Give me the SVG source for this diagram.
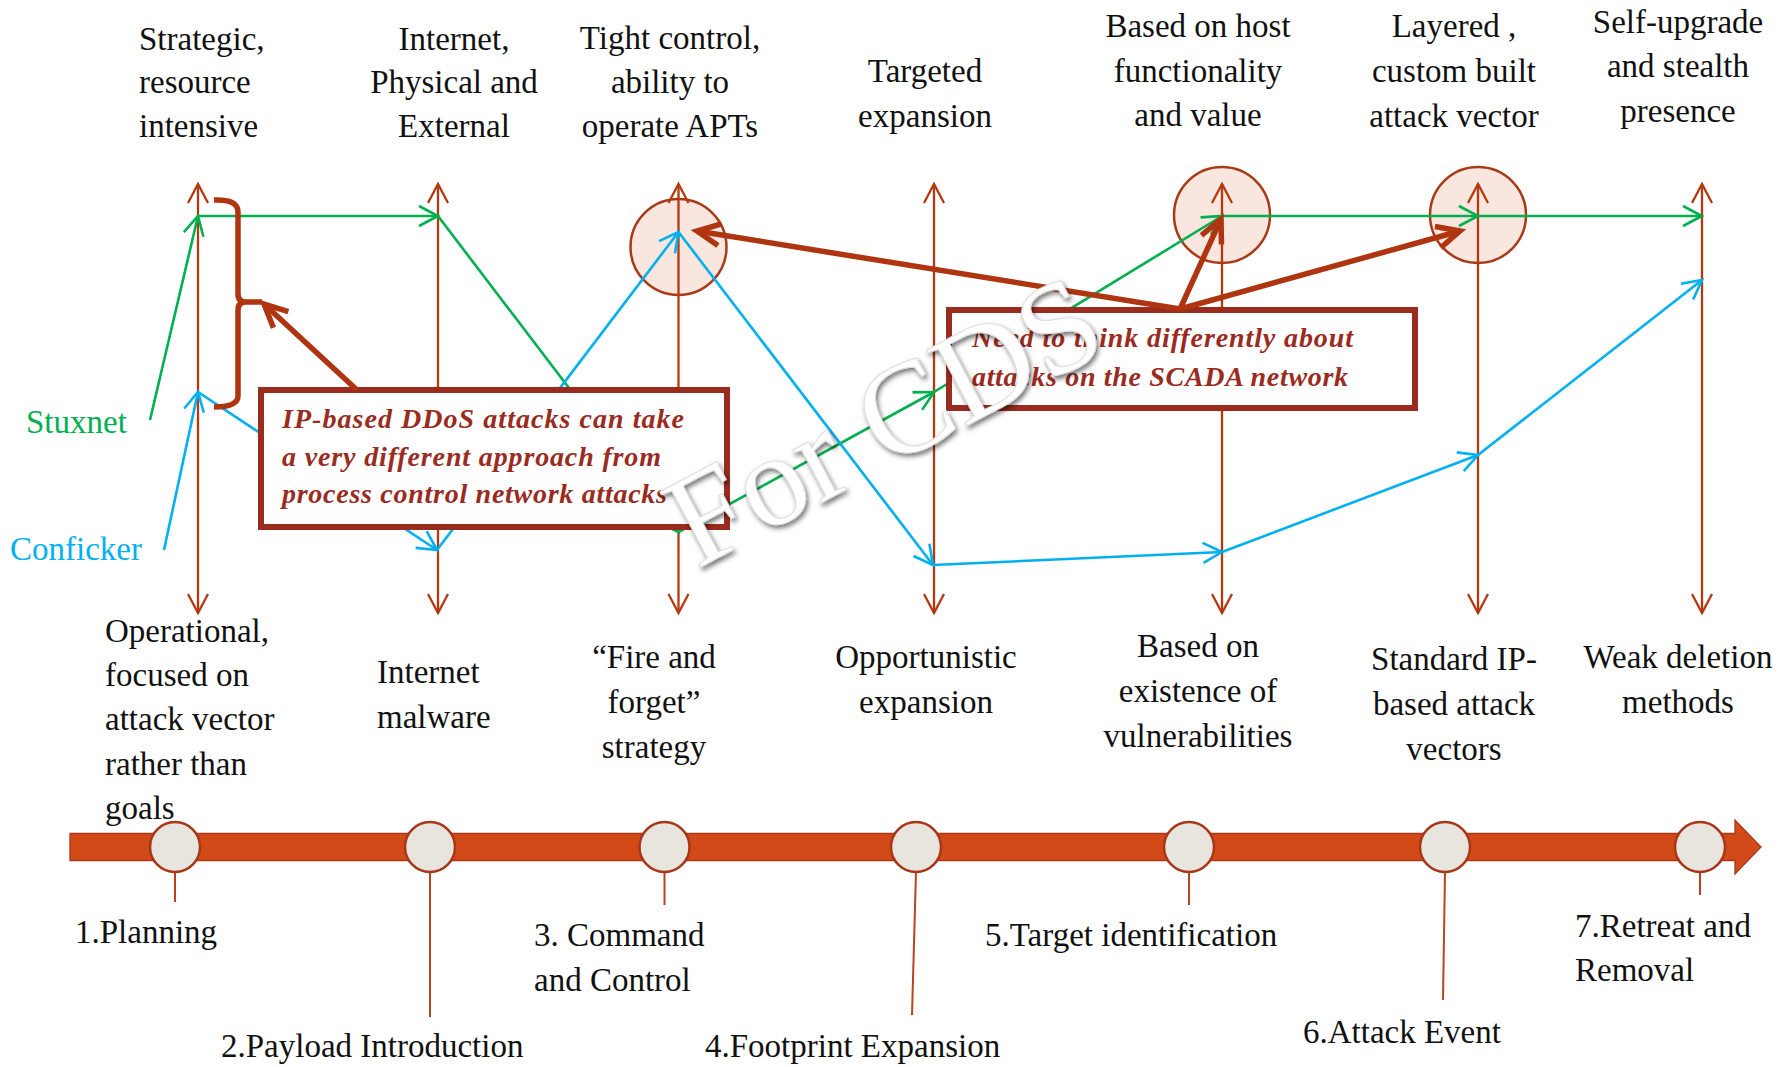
<svg xmlns="http://www.w3.org/2000/svg" width="1792" height="1067" viewBox="0 0 1792 1067">
  <style>
    .lbl { font-family: 'Liberation Serif', 'Times New Roman', serif; font-size: 33px; fill: #111; }
    .mid { text-anchor: middle; }
    .note { font-family: 'Liberation Serif', 'Times New Roman', serif; font-size: 28px; font-style: italic; font-weight: bold; fill: #9A2B1F; }
    .axis { stroke: #B5390F; stroke-width: 2.3; fill: none; }
    .stux { stroke: #00B050; stroke-width: 2.6; fill: none; marker-end: url(#ah-green); }
    .conf { stroke: #00B0F0; stroke-width: 2.6; fill: none; marker-end: url(#ah-blue); }
    .callarrow { stroke: #AE3510; stroke-width: 5.5; fill: none; marker-end: url(#ah-red); }
    .halo { fill: #F9E6DF; stroke: #A83A17; stroke-width: 2.5; }
    .box { fill: #fff; stroke: #9A2B1F; stroke-width: 6; }
    .stage { fill: #E8E5DF; stroke: #A8371A; stroke-width: 2.5; }
    .stem { stroke: #B8431C; stroke-width: 2; fill: none; }
    .mark { font-family: 'Liberation Serif', 'Times New Roman', serif; font-size: 131px; fill: #fff; stroke: #dedede; stroke-width: 1; }
  </style>
  <defs>
    <marker id="ah-axis" viewBox="-22 -12 24 24" refX="0" refY="0" markerWidth="24" markerHeight="24" markerUnits="userSpaceOnUse" orient="auto-start-reverse" overflow="visible">
      <path d="M-19,-10 L0,0 L-19,10" fill="none" stroke="#B5390F" stroke-width="2.3"/>
    </marker>
    <marker id="ah-green" viewBox="-22 -12 24 24" refX="0" refY="0" markerWidth="24" markerHeight="24" markerUnits="userSpaceOnUse" orient="auto" overflow="visible">
      <path d="M-19,-10 L0,0 L-19,10" fill="none" stroke="#00B050" stroke-width="2.6"/>
    </marker>
    <marker id="ah-blue" viewBox="-22 -12 24 24" refX="0" refY="0" markerWidth="24" markerHeight="24" markerUnits="userSpaceOnUse" orient="auto" overflow="visible">
      <path d="M-19,-10 L0,0 L-19,10" fill="none" stroke="#00B0F0" stroke-width="2.6"/>
    </marker>
    <marker id="ah-red" viewBox="-30 -15 32 30" refX="0" refY="0" markerWidth="32" markerHeight="30" markerUnits="userSpaceOnUse" orient="auto" overflow="visible">
      <path d="M-23,-11 L0,0 L-23,11" fill="none" stroke="#AE3510" stroke-width="5.5"/>
    </marker>
    <filter id="soft-shadow" x="-10%" y="-20%" width="120%" height="140%">
      <feDropShadow dx="2" dy="3" stdDeviation="2.8" flood-color="#000" flood-opacity="0.55"/>
    </filter>
  </defs>

  <rect width="1792" height="1067" fill="#fff"/>

  <!-- highlight discs behind the axes -->
  <g id="highlights">
    <circle class="halo" cx="678.5" cy="247" r="48"/>
    <circle class="halo" cx="1222" cy="215" r="48"/>
    <circle class="halo" cx="1478" cy="215" r="48"/>
  </g>

  <!-- vertical scale axes, one per stage -->
  <g id="axes">
    <path id="axis-1" class="axis" d="M198,184 V613" marker-start="url(#ah-axis)" marker-end="url(#ah-axis)"/>
    <path id="axis-2" class="axis" d="M438,184 V613" marker-start="url(#ah-axis)" marker-end="url(#ah-axis)"/>
    <path id="axis-3" class="axis" d="M678.5,184 V613" marker-start="url(#ah-axis)" marker-end="url(#ah-axis)"/>
    <path id="axis-4" class="axis" d="M934,184 V613" marker-start="url(#ah-axis)" marker-end="url(#ah-axis)"/>
    <path id="axis-5" class="axis" d="M1222,184 V613" marker-start="url(#ah-axis)" marker-end="url(#ah-axis)"/>
    <path id="axis-6" class="axis" d="M1478,184 V613" marker-start="url(#ah-axis)" marker-end="url(#ah-axis)"/>
    <path id="axis-7" class="axis" d="M1702,184 V613" marker-start="url(#ah-axis)" marker-end="url(#ah-axis)"/>
  </g>

  <!-- malware profiles plotted across the axes -->
  <g id="connectors">
    <g id="stuxnet-path">
      <path class="stux" d="M150,420 L198,216"/>
      <path class="stux" d="M198,216 L438,216"/>
      <path class="stux" d="M438,216 L678.5,532"/>
      <path class="stux" d="M678.5,532 L934,392"/>
      <path class="stux" d="M934,392 L1222,216"/>
      <path class="stux" d="M1222,216 L1478,216"/>
      <path class="stux" d="M1478,216 L1702,216"/>
    </g>
    <g id="conficker-path">
      <path class="conf" d="M164,550 L198,392"/>
      <path class="conf" d="M198,392 L437,550"/>
      <path class="conf" d="M437,550 L678.5,232"/>
      <path class="conf" d="M678.5,232 L933,565"/>
      <path class="conf" d="M933,565 L1222,552"/>
      <path class="conf" d="M1222,552 L1478,455"/>
      <path class="conf" d="M1478,455 L1702,280"/>
    </g>
  </g>

  <!-- series names -->
  <g id="legend">
    <text class="lbl" x="26" y="433" style="fill:#00B050">Stuxnet</text>
    <text class="lbl" x="10" y="560" style="fill:#00B0F0">Conficker</text>
  </g>

  <!-- callout boxes -->
  <g id="callout-ddos">
    <rect class="box" x="261" y="390" width="466" height="137"/>
    <text class="note" x="282" y="428" textLength="402">IP-based DDoS attacks can take</text>
    <text class="note" x="282" y="466" textLength="379">a very different approach from</text>
    <text class="note" x="282" y="503" textLength="385">process control network attacks</text>
  </g>
  <g id="callout-scada">
    <rect class="box" x="949" y="310" width="466" height="98"/>
    <text class="note" x="972" y="347" textLength="381">Need to think differently about</text>
    <text class="note" x="972" y="386" textLength="376">attacks on the SCADA network</text>
  </g>

  <!-- bracket and callout pointers -->
  <g id="pointers">
    <path d="M214,200 Q238,199 238,212 V294 Q238,302 246,302 H262 M246,302 Q238,302 238,310 V396 Q238,407 214,407" fill="none" stroke="#AE3510" stroke-width="5.5"/>
    <path class="callarrow" d="M357,390 L264,304"/>
    <path class="callarrow" d="M1180,309 L697,231"/>
    <path class="callarrow" d="M1180,309 L1221,219"/>
    <path class="callarrow" d="M1180,309 L1460,231"/>
  </g>

  <!-- descriptors above each axis -->
  <g id="top-labels" class="lbl">
    <text x="139" y="50">Strategic,</text>
    <text x="139" y="93">resource</text>
    <text x="139" y="137">intensive</text>
    <text class="mid" x="454" y="50">Internet,</text>
    <text class="mid" x="454" y="93">Physical and</text>
    <text class="mid" x="454" y="137">External</text>
    <text class="mid" x="670" y="49">Tight control,</text>
    <text class="mid" x="670" y="93">ability to</text>
    <text class="mid" x="670" y="137">operate APTs</text>
    <text class="mid" x="925" y="82">Targeted</text>
    <text class="mid" x="925" y="127">expansion</text>
    <text class="mid" x="1198" y="37">Based on host</text>
    <text class="mid" x="1198" y="82">functionality</text>
    <text class="mid" x="1198" y="126">and value</text>
    <text class="mid" x="1454" y="37">Layered ,</text>
    <text class="mid" x="1454" y="82">custom built</text>
    <text class="mid" x="1454" y="127">attack vector</text>
    <text class="mid" x="1678" y="33">Self-upgrade</text>
    <text class="mid" x="1678" y="77">and stealth</text>
    <text class="mid" x="1678" y="122">presence</text>
  </g>

  <!-- descriptors below each axis -->
  <g id="bottom-labels" class="lbl">
    <text x="105" y="642">Operational,</text>
    <text x="105" y="686">focused on</text>
    <text x="105" y="730">attack vector</text>
    <text x="105" y="775">rather than</text>
    <text x="105" y="819">goals</text>
    <text x="377" y="683">Internet</text>
    <text x="377" y="728">malware</text>
    <text class="mid" x="654" y="668">“Fire and</text>
    <text class="mid" x="654" y="713">forget”</text>
    <text class="mid" x="654" y="758">strategy</text>
    <text class="mid" x="926" y="668">Opportunistic</text>
    <text class="mid" x="926" y="713">expansion</text>
    <text class="mid" x="1198" y="657">Based on</text>
    <text class="mid" x="1198" y="702">existence of</text>
    <text class="mid" x="1198" y="747">vulnerabilities</text>
    <text class="mid" x="1454" y="670">Standard IP-</text>
    <text class="mid" x="1454" y="715">based attack</text>
    <text class="mid" x="1454" y="760">vectors</text>
    <text class="mid" x="1678" y="668">Weak deletion</text>
    <text class="mid" x="1678" y="713">methods</text>
  </g>

  <!-- timeline -->
  <g id="timeline">
    <path d="M70,833.5 H1735 V820 L1761,847 L1735,874 V860.5 H70 Z" fill="#D24A18" stroke="#A8381A" stroke-width="1.3"/>
  </g>
  <g id="stage-1"><path class="stem" d="M175,872 V902"/><ellipse class="stage" cx="175" cy="847" rx="25" ry="25"/><text class="lbl" x="75" y="943">1.Planning</text></g>
  <g id="stage-2"><path class="stem" d="M430,872 V1017"/><ellipse class="stage" cx="430" cy="847" rx="25" ry="25"/><text class="lbl" x="221" y="1057">2.Payload Introduction</text></g>
  <g id="stage-3"><path class="stem" d="M664.5,872 V905"/><ellipse class="stage" cx="664.5" cy="847" rx="25" ry="25"/><text class="lbl" x="534" y="946">3. Command</text><text class="lbl" x="534" y="991">and Control</text></g>
  <g id="stage-4"><path class="stem" d="M916,872 L912,1015"/><ellipse class="stage" cx="916" cy="847" rx="25" ry="25"/><text class="lbl" x="705" y="1057">4.Footprint Expansion</text></g>
  <g id="stage-5"><path class="stem" d="M1189,872 V905"/><ellipse class="stage" cx="1189" cy="847" rx="25" ry="25"/><text class="lbl" x="985" y="946">5.Target identification</text></g>
  <g id="stage-6"><path class="stem" d="M1445,872 L1443,1000"/><ellipse class="stage" cx="1445" cy="847" rx="25" ry="25"/><text class="lbl" x="1303" y="1043">6.Attack Event</text></g>
  <g id="stage-7"><path class="stem" d="M1700,872 V895"/><ellipse class="stage" cx="1700" cy="847" rx="25" ry="25"/><text class="lbl" x="1575" y="937">7.Retreat and</text><text class="lbl" x="1575" y="981">Removal</text></g>

  <!-- watermark -->
  <g id="watermark" filter="url(#soft-shadow)">
    <text class="mark" text-anchor="middle" transform="translate(904,459) rotate(-28)">For CDS</text>
  </g>
</svg>
